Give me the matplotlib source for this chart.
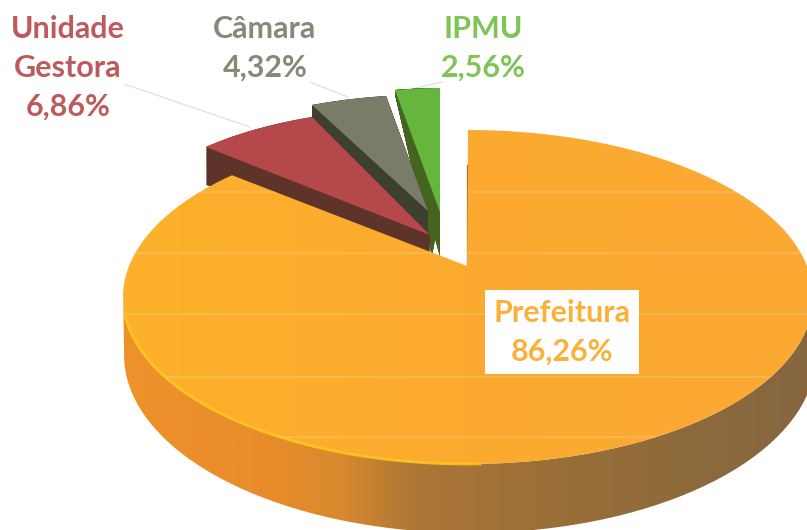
import numpy as np
from matplotlib import pyplot as plt
from matplotlib.path import Path
from matplotlib.patches import PathPatch
from matplotlib.transforms import Affine2D
from matplotlib.colors import LinearSegmentedColormap

plt.rcParams['font.family'] = ['Lato', 'DejaVu Sans']

# data
names = ['Prefeitura', 'Unidade\nGestora', 'Câmara', 'IPMU']
values = [86.26, 6.86, 4.32, 2.56]
wall_colors = [None, '#5E3329', '#3E3F31', '#44641F']
top_colors = [None, '#B5484A', '#7A7C68', '#66B53C']
text_colors = ['#FBB03A', '#BD5A5C', '#858A78', '#7FC455']

# layout of the three loose slices: apex, rim point at small angle, rim point at large angle
loose = {
    1: dict(apex=(430, 235), rim=[(312, 117), (206, 147)], depth=(18, 38), lean=[0]),
    2: dict(apex=(428, 211), rim=[(386, 96), (312, 105)], depth=(25, 14), lean=[0]),
    3: dict(apex=(440, 212), rim=[(440, 88), (395, 90)], depth=(45, 4), lean=[0, -8]),
}
# big slice
cx, cy, rx, ry = 468, 297, 345, 167
apex_main = (467, 266)
warp = 316.8 / 310.5
bx, by, brx, bry = 470, 355, 346, 178   # lower rim of the side wall

label_pos = [(562, 332), (68, 68), (265, 48), (483, 48)]
scan_lines = [192, 253, 314, 377, 437, 500]

fig = plt.figure(figsize=(8.07, 5.30), dpi=100)
ax = fig.add_axes([0, 0, 1, 1])

wedges, _ = ax.pie(values, startangle=90, counterclock=False, radius=1)


def outline(w):
    # flatten the wedge into polygon points of the unit circle
    return w.get_path().to_polygons(Affine2D().scale(600), closed_only=False)[0] / 600


def fill(pts, **kw):
    p = PathPatch(Path(pts), lw=0, **kw)
    ax.add_patch(p)
    return p


# side wall of the big slice, gradient along x and clipped to the rim
pts = outline(wedges[0])
r = np.hypot(pts[:, 0], pts[:, 1])
t = np.arctan2(pts[:, 1], pts[:, 0])
c = (np.degrees(np.pi / 2 - t) + 1) % 360 - 1
t2 = np.radians(90 - c * warp)
top_x = np.where(r > 0.5, cx + rx * np.cos(t2), apex_main[0])
top_y = np.where(r > 0.5, cy - ry * np.sin(t2), apex_main[1])
main_top = np.column_stack([top_x, top_y])

lower = (r > 0.5) & (np.sin(t2) <= 0.05)
order = np.argsort(np.cos(t2[lower]))
low_t = t2[lower][order]
wall = np.vstack([
    np.column_stack([bx + brx * np.cos(low_t), by - bry * np.sin(low_t)]),
    np.column_stack([cx + rx * np.cos(low_t[::-1]), cy - ry * np.sin(low_t[::-1])]),
])
wall_patch = fill(wall, facecolor='none')
wall_cmap = LinearSegmentedColormap.from_list('wall', [
    (0.00, '#F0922A'), (0.22, '#E88C2A'), (0.32, '#D98A2E'), (0.43, '#AC7636'),
    (0.63, '#9A6F38'), (0.85, '#8C6A3C'), (1.00, '#866640'),
])
im = ax.imshow(np.linspace(0, 1, 256)[None, :], cmap=wall_cmap, aspect='auto',
               extent=(120, 807, 530, 290), zorder=1)
im.set_clip_path(wall_patch)

# loose slices, the last one is the furthest back
for i in [3, 2, 1]:
    s = loose[i]
    w = wedges[i]
    a1, a2 = np.radians(w.theta2), np.radians(w.theta1)
    src = np.array([[np.cos(a1), np.sin(a1)], [np.cos(a2), np.sin(a2)]])
    dst = np.array(s['rim'], float) - np.array(s['apex'], float)
    m = np.linalg.solve(src, dst).T
    u = outline(w)
    rr = np.hypot(u[:, 0], u[:, 1])
    face = u @ m.T + np.array(s['apex'], float)
    d0, d1 = s['depth']
    for lean in s['lean']:
        for k in np.linspace(1, 0, 80):
            dx = k * lean * (1 - rr)
            dy = k * (d0 + (d1 - d0) * rr)
            fill(face + np.column_stack([dx, dy]), facecolor=wall_colors[i], edgecolor='none', zorder=2 + (3 - i))
    fill(face, facecolor=top_colors[i], zorder=2 + (3 - i))

# top face of the big slice
ax.plot([apex_main[0]] * 2, [165, apex_main[1]], color='#7A5A28', lw=0.9, zorder=5)
face_patch = fill(main_top, facecolor='none', zorder=6)
face_cmap = LinearSegmentedColormap.from_list('face', ['#FDB12B', '#FCAB2F', '#FBA934'])
im2 = ax.imshow(np.linspace(0, 1, 256)[None, :], cmap=face_cmap, aspect='auto',
                extent=(120, 807, 530, 120), zorder=6)
im2.set_clip_path(face_patch)
rim_t = np.radians(np.linspace(186, 272, 80))
ax.plot(cx + rx * np.cos(rim_t), cy - ry * np.sin(rim_t), color='#FFC81E', lw=2, alpha=0.85, zorder=7)

# faint bands of the scan, only on the big slice
for y in scan_lines:
    ln = ax.axhline(y, color='#FFD9A0', lw=1.2, alpha=0.3, zorder=7)
    ln.set_clip_path(face_patch)

# leader lines
for xs, ys in [((124, 250), (84, 127)), ((310, 348), (82, 97)), ((416, 442), (88, 82))]:
    ax.plot(xs, ys, color='#DDDDDD', lw=0.8, zorder=1)

for w in wedges:
    w.remove()

# labels
for i, name in enumerate(names):
    txt = name + '\n' + f'{values[i]:.2f}%'.replace('.', ',')
    bbox = None
    if i == 0:
        bbox = dict(boxstyle='square,pad=0.27', fc='white', ec='none')
    ax.text(label_pos[i][0], label_pos[i][1], txt, color=text_colors[i], fontsize=22, fontweight='bold',
            ha='center', va='center', linespacing=1.47, bbox=bbox, zorder=9)

ax.set_aspect('auto')
ax.set_xlim(0, 807)
ax.set_ylim(530, 0)
ax.axis('off')

plt.savefig('out.png', dpi=100)
